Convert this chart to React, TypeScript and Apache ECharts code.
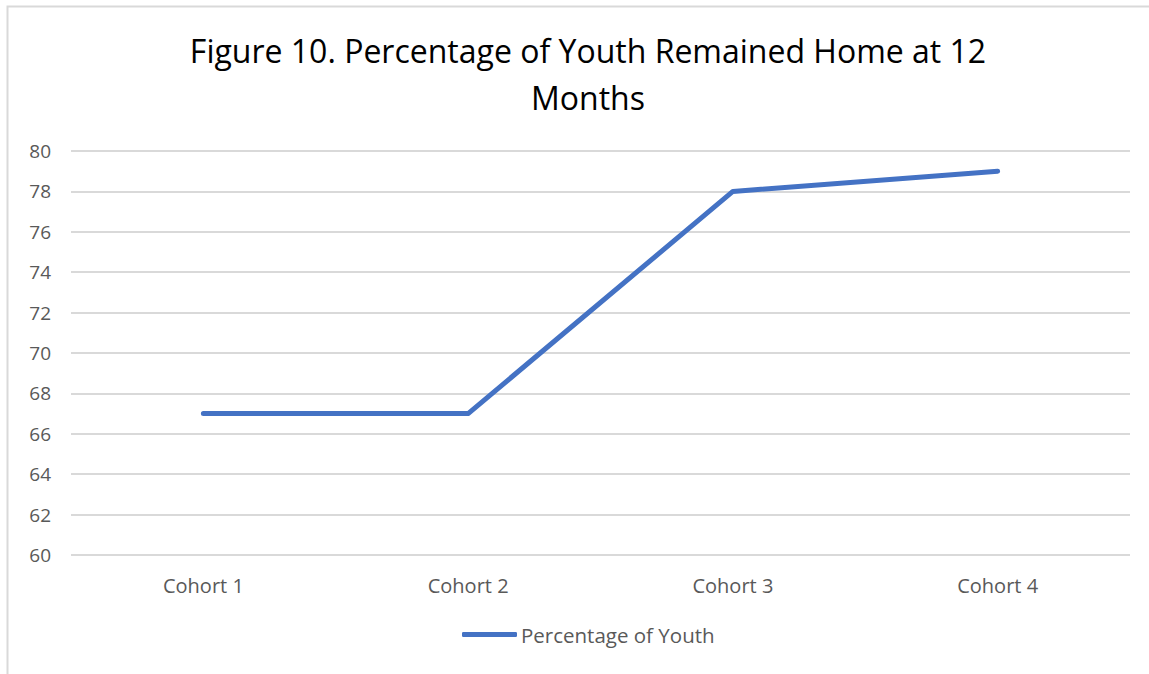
import React, { useEffect, useRef } from "react";
import * as echarts from "echarts";

const categories = ["Cohort 1", "Cohort 2", "Cohort 3", "Cohort 4"];
const youthValues = [67, 67, 78, 79];
const seriesName = "Percentage of Youth";
const titleText = "Figure 10. Percentage of Youth Remained Home at 12\nMonths";

export default function App() {
  const ref = useRef<HTMLDivElement>(null);
  useEffect(() => {
    const chart = echarts.init(ref.current!, null, { renderer: "svg" });
    const font = "'Open Sans', sans-serif";
    chart.setOption({
      animation: false,
      backgroundColor: "#ffffff",
      title: {
        text: titleText,
        left: 583,
        top: 22,
        textAlign: "center",
        textStyle: {
          fontFamily: font,
          fontSize: 32,
          fontWeight: "normal",
          color: "#000000",
          lineHeight: 47,
        },
      },
      graphic: [
        {
          type: "rect",
          shape: { x: 7.5, y: 6.5, width: 1200, height: 700 },
          style: { fill: "none", stroke: "#d9d9d9", lineWidth: 2 },
          silent: true,
          z: -1,
        },
      ],
      legend: {
        data: [seriesName],
        left: 457,
        bottom: 24,
        icon: "roundRect",
        itemWidth: 55,
        itemHeight: 5,
        textStyle: { fontFamily: font, fontSize: 20.5, color: "#595959", padding: [0, 0, 0, -1] },
      },
      grid: { left: 71, right: 19, top: 151, bottom: 119, containLabel: false },
      xAxis: {
        type: "category",
        data: categories,
        boundaryGap: true,
        axisLine: { show: false },
        axisTick: { show: false },
        axisLabel: { fontFamily: font, fontSize: 20, color: "#595959", margin: 20 },
      },
      yAxis: {
        type: "value",
        min: 60,
        max: 80,
        interval: 2,
        axisLine: { show: false },
        axisTick: { show: false },
        axisLabel: { fontFamily: font, fontSize: 19, color: "#595959", margin: 20, align: "right" },
        splitLine: { lineStyle: { color: "#d9d9d9", width: 2 } },
      },
      series: [
        {
          name: seriesName,
          type: "line",
          data: youthValues,
          symbol: "none",
          lineStyle: { color: "#4472c4", width: 5, cap: "round", join: "round" },
          itemStyle: { color: "#4472c4" },
        },
      ],
    });
    return () => chart.dispose();
  }, []);
  return (
    <div
      ref={ref}
      style={{ position: "absolute", left: 0, top: 0, width: 1149, height: 674 }}
    />
  );
}
